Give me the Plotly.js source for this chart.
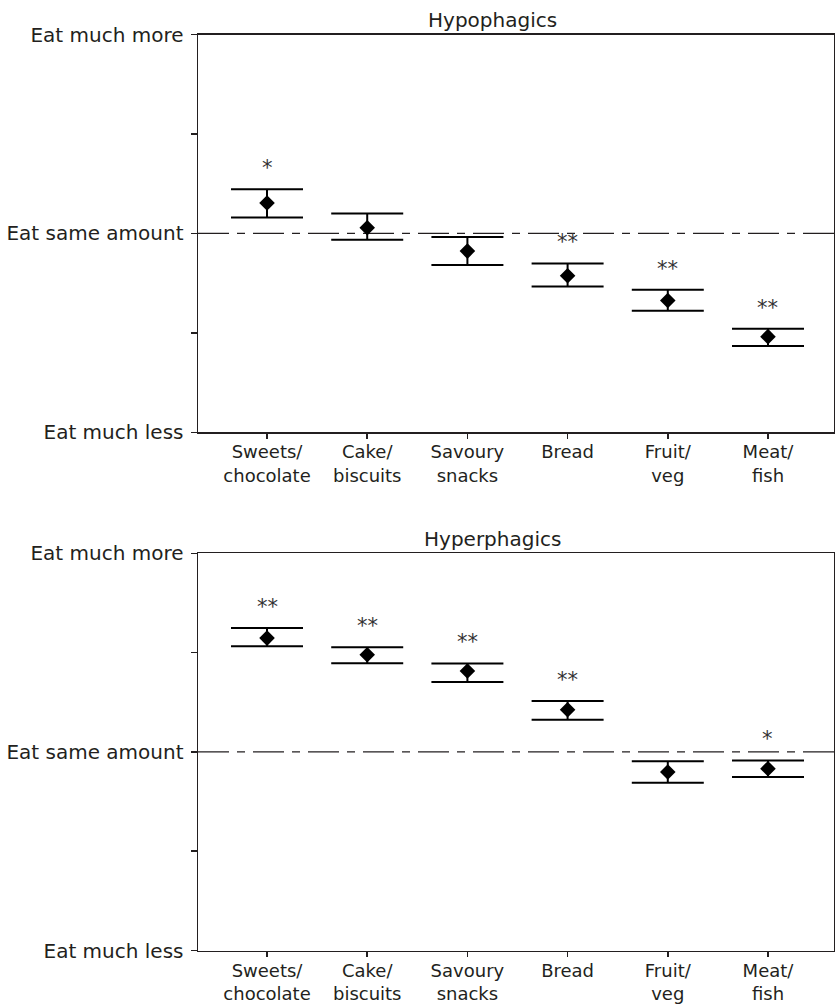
<!DOCTYPE html>
<html>
<head>
<meta charset="utf-8">
<script src="https://cdn.plot.ly/plotly-3.0.1.min.js"></script>
<style>html,body{margin:0;padding:0;background:#fff;}#chart{width:835px;height:1004px;}</style>
</head>
<body>
<div id="chart"></div>
<script>
// ---- data ----
const categories = ['Sweets/<br>chocolate', 'Cake/<br>biscuits', 'Savoury<br>snacks', 'Bread', 'Fruit/<br>veg', 'Meat/<br>fish'];
const yTickValues = [-2, -1, 0, 1, 2];
const yTickLabels = ['Eat much less', '', 'Eat same amount', '', 'Eat much more'];

const hypoTitle = 'Hypophagics';
const hypoMean  = [0.305, 0.057, -0.178, -0.426, -0.675, -1.038];
const hypoUpper = [0.443, 0.200, -0.037, -0.302, -0.567, -0.960];
const hypoLower = [0.161, -0.063, -0.319, -0.534, -0.779, -1.132];
const hypoSig   = ['*', '', '', '**', '**', '**'];

const hyperTitle = 'Hyperphagics';
const hyperMean  = [1.146, 0.979, 0.814, 0.425, -0.203, -0.169];
const hyperUpper = [1.247, 1.055, 0.891, 0.512, -0.093, -0.086];
const hyperLower = [1.065, 0.894, 0.703, 0.324, -0.310, -0.254];
const hyperSig   = ['**', '**', '**', '**', '', '*'];

// ---- build ----
const W = 835, H = 1004;
const ink = '#231f20';
const FONT = 'DejaVu Sans, sans-serif';
const xIdx = categories.map((_, i) => i);

function trace(mean, upper, lower, xa, ya) {
  return {
    type: 'scatter', mode: 'markers', x: xIdx, y: mean, xaxis: xa, yaxis: ya,
    marker: {symbol: 'diamond', size: 12, color: '#000'},
    error_y: {type: 'data', symmetric: false,
      array: upper.map((u, i) => u - mean[i]),
      arrayminus: lower.map((l, i) => mean[i] - l),
      width: 36, thickness: 2, color: '#000'},
    showlegend: false, hoverinfo: 'skip'
  };
}

const data = [
  trace(hypoMean, hypoUpper, hypoLower, 'x', 'y'),
  trace(hyperMean, hyperUpper, hyperLower, 'x2', 'y2')
];

const xCommon = {
  range: [-0.689, 5.659], tickmode: 'array', tickvals: xIdx, ticktext: categories,
  showline: true, linecolor: ink, linewidth: 1.5, mirror: true,
  ticks: 'outside', ticklen: 5, tickwidth: 1.5, tickcolor: ink,
  showgrid: false, zeroline: false, fixedrange: true, ticklabelstandoff: -2,
  tickfont: {family: FONT, size: 18, color: ink}
};
const yCommon = {
  range: [-2, 2], tickmode: 'array', tickvals: yTickValues, ticktext: yTickLabels,
  showline: true, linecolor: ink, linewidth: 1.5, mirror: true,
  ticks: 'outside', ticklen: 6, tickwidth: 1.5, tickcolor: ink,
  showgrid: false, zeroline: false, fixedrange: true, ticklabelstandoff: 3,
  tickfont: {family: FONT, size: 20, color: ink}
};

const topDom = [1 - 432.3 / H, 1 - 34.5 / H];
const botDom = [1 - 950.5 / H, 1 - 553.3 / H];

const annotations = [];
function addStars(sig, upper, xr, yr) {
  sig.forEach((s, i) => {
    if (!s) return;
    annotations.push({x: i, y: upper[i], xref: xr, yref: yr, text: s, showarrow: false,
      yanchor: 'bottom', yshift: 8, borderpad: 0,
      font: {family: FONT, size: 21, color: '#333'}});
  });
}
addStars(hypoSig, hypoUpper, 'x', 'y');
addStars(hyperSig, hyperUpper, 'x2', 'y2');

const titleX = (492 - 198) / (834 - 198);
annotations.push({x: titleX, y: topDom[1], xref: 'paper', yref: 'paper', text: hypoTitle,
  showarrow: false, yanchor: 'bottom', yshift: 1, borderpad: 0, font: {family: FONT, size: 20, color: ink}});
annotations.push({x: titleX, y: botDom[1], xref: 'paper', yref: 'paper', text: hyperTitle,
  showarrow: false, yanchor: 'bottom', yshift: 1, borderpad: 0, font: {family: FONT, size: 20, color: ink}});

const dashLine = (xr, yr) => ({type: 'line', xref: xr + ' domain', yref: yr, x0: 0, x1: 1, y0: 0, y1: 0,
  line: {color: ink, width: 1.3, dash: '31px,8px,8px,8px'}, layer: 'below'});

const layout = {
  width: W, height: H,
  margin: {l: 198, r: 1, t: 0, b: 0},
  paper_bgcolor: '#fff', plot_bgcolor: '#fff',
  showlegend: false,
  xaxis: Object.assign({}, xCommon, {anchor: 'y', domain: [0, 1]}),
  yaxis: Object.assign({}, yCommon, {anchor: 'x', domain: topDom}),
  xaxis2: Object.assign({}, xCommon, {anchor: 'y2', domain: [0, 1]}),
  yaxis2: Object.assign({}, yCommon, {anchor: 'x2', domain: botDom}),
  shapes: [dashLine('x', 'y'), dashLine('x2', 'y2')],
  annotations: annotations
};

Plotly.newPlot('chart', data, layout, {displayModeBar: false, staticPlot: true});
</script>
</body>
</html>
